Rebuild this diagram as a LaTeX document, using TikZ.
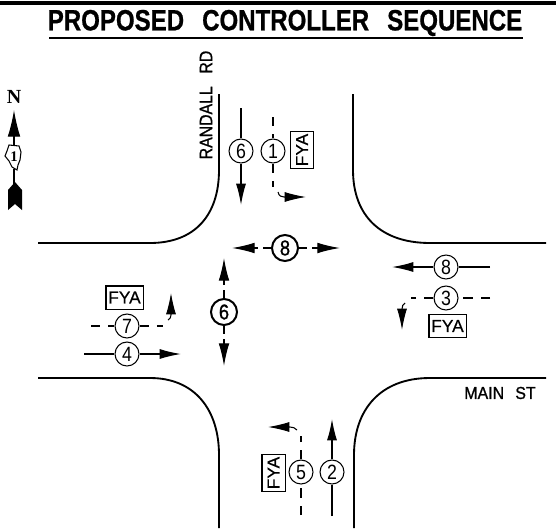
\documentclass[tikz,border=0pt]{standalone}
\usepackage{fontspec}
\setmainfont{Liberation Sans}
\newfontfamily\cadfont[FakeBold=0.4]{Liberation Sans}
\newfontfamily\pedfont[FakeBold=1]{Liberation Sans}
\newfontfamily\titlefont[BoldFeatures={FakeBold=0.8}]{Liberation Sans}
\newfontfamily\northfont{Liberation Serif}
\usetikzlibrary{arrows.meta}

\newcommand{\cadtext}[1]{\scalebox{0.86}[1]{#1}}

\tikzset{
  phase/.style={circle, draw, line width=0.8pt, minimum size=18pt, inner sep=0pt, font=\fontsize{15.5}{16}\selectfont},
  ped/.style={circle, draw, line width=1.5pt, minimum size=19.5pt, inner sep=0pt, font=\fontsize{16}{16}\pedfont},
  fya/.style={rectangle, draw, line width=1pt, minimum width=28pt, minimum height=17.5pt, inner sep=0pt, font=\fontsize{13}{13}\cadfont},
  curb/.style={line width=1.4pt},
  move/.style={line width=0.95pt, -{Latex[length=16pt,width=7.5pt]}},
  stem/.style={line width=0.95pt},
  perm/.style={line width=0.95pt, dash pattern=on 7pt off 6pt},
  turn/.style={line width=0.8pt, -{Latex[length=16pt,width=7.5pt]}}
}

\begin{document}
\begin{tikzpicture}[x=0.75pt, y=-0.75pt]
\useasboundingbox (0,0) rectangle (556,528);

% title
\coordinate (barl) at (0,3);
\coordinate (barr) at (556,3);
\draw [line width=2.6pt] (barl) -- (barr);
\node (title) at (285,23) {\fontsize{22}{24}\titlefont\bfseries\scalebox{0.82}[1]{PROPOSED\hspace{0.75em}CONTROLLER\hspace{0.75em}SEQUENCE}};
\coordinate (rulel) at (49,38);
\coordinate (ruler) at (523,38);
\draw [line width=1pt] (rulel) -- (ruler);

% street names
\node (randall) [rotate=90, font=\fontsize{13.5}{14}\pedfont] at (206,105) {\scalebox{0.88}[1]{RANDALL\hspace{0.8em}RD}};
\node (mainst) [font=\fontsize{13}{13}\pedfont] at (500,393) {\scalebox{0.92}[1]{MAIN\hspace{0.7em}ST}};

% curbs
\draw [curb] (219,94) -- (219,170) .. controls (219,215) and (195,243) .. (150,243) -- (38,243);
\draw [curb] (353,94) -- (353,170) .. controls (353,215) and (380,243) .. (430,243) -- (546,243);
\draw [curb] (38,378) -- (150,378) .. controls (195,378) and (219,410) .. (219,455) -- (219,528);
\draw [curb] (354,528) -- (354,455) .. controls (354,410) and (380,378) .. (430,378) -- (546,378);

% north arrow
\node (north) [font=\fontsize{15}{15}\northfont\bfseries] at (14,97) {N};
\node (state) [inner sep=0pt, minimum width=12pt, minimum height=18pt, font=\fontsize{11}{11}\northfont\bfseries] at (14,157) {1};
\draw [line width=0.8pt] (9,145) -- (19,146) -- (21,152) -- (20,160) -- (18,165) -- (17,170) -- (12,167) -- (9,161) -- (5,156) -- (7,151) -- cycle;
\coordinate (ntip) at (14,110);
\coordinate (ntail) at (14,184);
\draw [line width=1pt, -{Latex[length=20pt,width=9.5pt]}] (state.north) -- (ntip);
\draw [line width=1pt] (state.south) -- (ntail);
\fill (15,182) -- (22,190) -- (22,210) -- (15,204) -- (8,210) -- (8,190) -- cycle;

% pedestrian phases
\node (ped8) [ped] at (285,248) {\cadtext{8}};
\node (ped6) [ped] at (224,312) {\cadtext{6}};
\coordinate (p8w) at (232,248);
\coordinate (p8e) at (340,248);
\coordinate (p6n) at (224,258);
\coordinate (p6s) at (224,366);
\coordinate (p8wd) at (257,248);
\coordinate (p8ed) at (315,248);
\coordinate (p6nd) at (224,282);
\coordinate (p6sd) at (224,345);
\foreach \a/\b/\c in {ped8/p8wd/p8w, ped8/p8ed/p8e, ped6/p6nd/p6n, ped6/p6sd/p6s} {
  \draw [line width=0.95pt, dash pattern=on 6pt off 4pt] (\a) -- (\b);
  \draw [line width=0.95pt, -{Latex[length=17pt,width=8pt]}] (\b) -- (\c);
}

% southbound
\node (sig6) [phase] at (241,151) {\cadtext{6}};
\node (sig1) [phase, right of=sig6, node distance=24pt] {\cadtext{1}};
\node (fya1) [fya, rotate=90] at (302,150) {FYA};
\coordinate (s6a) at (241,108);
\coordinate (s6b) at (241,205);
\coordinate (s1a) at (273,117);
\coordinate (s1b) at (273,187);
\coordinate (s1c) at (306,197);
\draw [stem] (s6a) -- (sig6);
\draw [move] (sig6) -- (s6b);
\draw [perm] (s1a) -- (sig1);
\draw [perm] (sig1) -- (s1b);
\draw [turn] (278,192) .. controls (279,196) and (281,197) .. (284,197) -- (s1c);

% eastbound
\node (sig7) [phase] at (127,326) {\cadtext{7}};
\node (sig4) [phase, below of=sig7, node distance=21pt] {\cadtext{4}};
\node (fya7) [fya] at (124.5,297.5) {FYA};
\coordinate (e7a) at (91,326);
\coordinate (e7b) at (163,326);
\coordinate (e7c) at (171,293);
\coordinate (e4a) at (84,354);
\coordinate (e4b) at (181,354);
\draw [perm] (e7a) -- (sig7);
\draw [perm] (sig7) -- (e7b);
\draw [turn] (168,320) .. controls (170,319) and (171,317) .. (171,315) -- (e7c);
\draw [stem] (e4a) -- (sig4);
\draw [move] (sig4) -- (e4b);

% westbound
\node (sig8) [phase] at (446,267) {\cadtext{8}};
\node (sig3) [phase, below of=sig8, node distance=23.25pt] {\cadtext{3}};
\node (fya3) [fya] at (447.5,326) {FYA};
\coordinate (w8a) at (490,267);
\coordinate (w8b) at (392,267);
\coordinate (w3a) at (490,298);
\coordinate (w3b) at (411,298);
\coordinate (w3c) at (402,330);
\draw [stem] (w8a) -- (sig8);
\draw [move] (sig8) -- (w8b);
\draw [perm] (w3a) -- (sig3);
\draw [perm] (sig3) -- (w3b);
\draw [turn] (405,303) .. controls (403,304) and (402,306) .. (402,309) -- (w3c);

% northbound
\node (sig5) [phase] at (301,472) {\cadtext{5}};
\node (sig2) [phase, right of=sig5, node distance=23.25pt] {\cadtext{2}};
\node (fya5) [fya, rotate=90] at (273.5,473) {FYA};
\coordinate (n5a) at (301,515);
\coordinate (n5b) at (301,436);
\coordinate (n5c) at (268,427);
\coordinate (n2a) at (332,516);
\coordinate (n2b) at (332,419);
\draw [perm] (n5a) -- (sig5);
\draw [perm] (sig5) -- (n5b);
\draw [turn] (297,430) .. controls (295,428) and (293,427) .. (290,427) -- (n5c);
\draw [stem] (n2a) -- (sig2);
\draw [move] (sig2) -- (n2b);

\end{tikzpicture}
\end{document}
